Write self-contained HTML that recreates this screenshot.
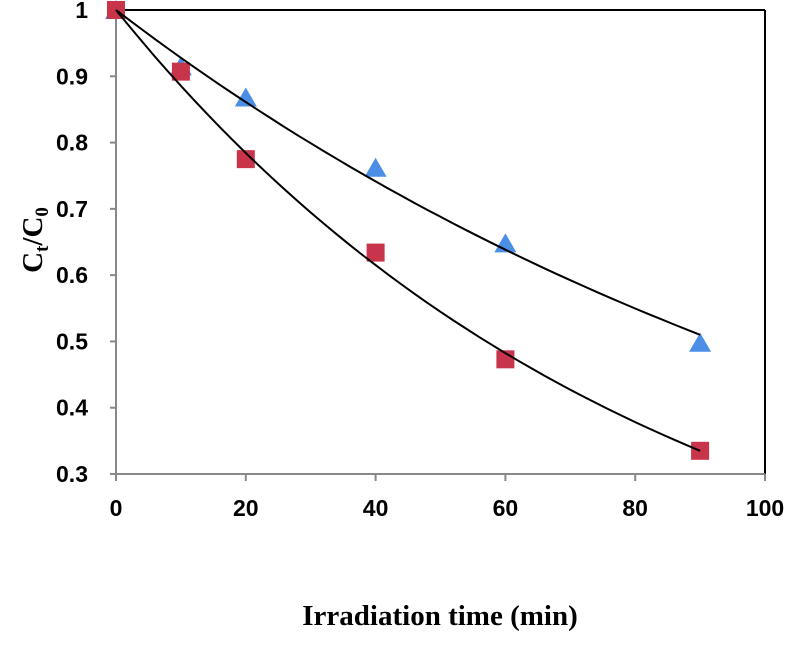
<!DOCTYPE html>
<html><head><meta charset="utf-8"><style>
body{margin:0;background:#fff;}
svg text{font-family:"Liberation Sans",sans-serif;font-weight:bold;}
</style></head><body>
<svg width="787" height="640" xmlns="http://www.w3.org/2000/svg">
<g id="plot"></g>
<text x="440" y="625" text-anchor="middle" style="font-family:'Liberation Serif',serif;font-size:29px">Irradiation time (min)</text>
<text transform="translate(42,240) rotate(-90)" text-anchor="middle" style="font-family:'Liberation Serif',serif;font-size:29px">C<tspan font-size="19" dy="6">t</tspan><tspan dy="-6">/C</tspan><tspan font-size="19" dy="6">0</tspan></text>
</svg>
<script>
const xTicks=[0,20,40,60,80,100];
const yTicks=[0.3,0.4,0.5,0.6,0.7,0.8,0.9,1];
const yTickLabels=["0.3","0.4","0.5","0.6","0.7","0.8","0.9","1"];
const times=[0,10,20,40,60,90];
const seriesA=[1,0.915,0.868,0.762,0.648,0.498];
const seriesB=[1,0.907,0.775,0.634,0.473,0.335];
const kA=0.00748, kB=0.01215;
const X=v=>116+v*6.49;
const Y=v=>474-(v-0.3)/0.7*464;
const NS="http://www.w3.org/2000/svg";
const g=document.getElementById('plot');
function mk(t,a){const e=document.createElementNS(NS,t);for(const k in a)e.setAttribute(k,a[k]);g.appendChild(e);return e;}
let e;
e=mk('line',{x1:X(0),y1:Y(1),x2:X(100),y2:Y(1),stroke:'#000','stroke-width':2});


e=mk('line',{x1:X(100),y1:Y(1),x2:X(100),y2:Y(0.3),stroke:'#000','stroke-width':2});


e=mk('line',{x1:X(0),y1:Y(1),x2:X(0),y2:Y(0.3),stroke:'#888','stroke-width':2});


e=mk('line',{x1:X(0),y1:Y(0.3),x2:X(100),y2:Y(0.3),stroke:'#888','stroke-width':2});


yTicks.forEach((v,i)=>{
 e=mk('line',{x1:X(0)-6,y1:Y(v),x2:X(0),y2:Y(v),stroke:'#888','stroke-width':2});
 
 
 e=mk('text',{x:88,y:Y(v)+8,'text-anchor':'end','font-size':23});
 e.textContent=yTickLabels[i];
 
 
});
xTicks.forEach(v=>{
 e=mk('line',{x1:X(v),y1:Y(0.3),x2:X(v),y2:Y(0.3)+7,stroke:'#888','stroke-width':2});
 
 
 e=mk('text',{x:X(v),y:516,'text-anchor':'middle','font-size':23});
 e.textContent=String(v);
 
 
});
function curve(k,name){let d='';for(let t=0;t<=90;t+=2){d+=(t?'L':'M')+X(t).toFixed(1)+','+Y(Math.exp(-k*t)).toFixed(1);}
 e=mk('path',{d:d,fill:'none',stroke:'#000','stroke-width':2});
 
 }
seriesA.forEach((v,i)=>{const x=X(times[i]),y=Y(v);
 e=mk('polygon',{points:`${x},${y-10} ${x-11},${y+9} ${x+11},${y+9}`,fill:'#4a8ee6'});
 
 });
seriesB.forEach((v,i)=>{const x=X(times[i]),y=Y(v);
 e=mk('rect',{x:x-9,y:y-9,width:18,height:18,fill:'#c8344a'});
 
 });
curve(kA,'fit-curve-triangle');
curve(kB,'fit-curve-square');
</script>
</body></html>
